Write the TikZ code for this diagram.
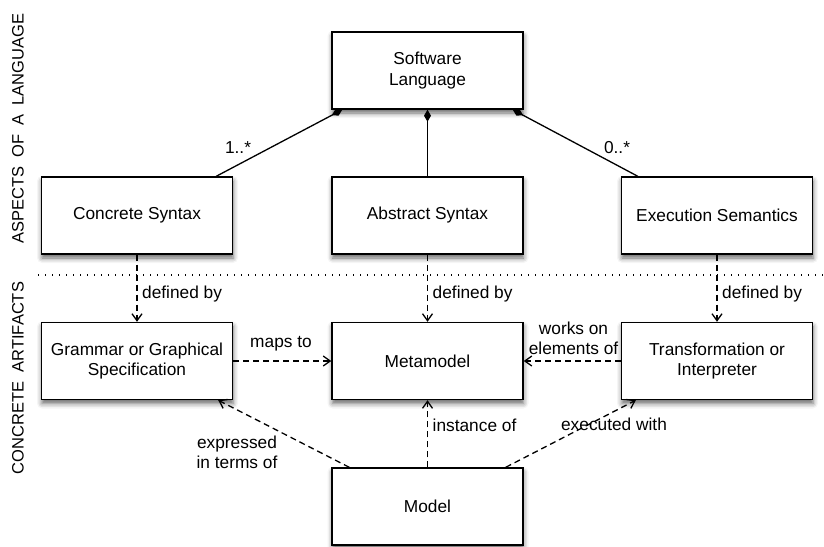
\documentclass[tikz,border=0pt]{standalone}
\usepackage{fontspec}
\setmainfont{Liberation Sans}
\usetikzlibrary{arrows.meta,calc,shadows.blur}
\begin{document}
\begin{tikzpicture}[x=1pt,y=-1pt,
  box/.style={draw=black,line width=1.4pt,fill=white,minimum width=191pt,minimum height=77pt,inner sep=0pt,align=center,
    font=\fontsize{17.3}{20.5}\selectfont,
    blur shadow={shadow xshift=0.5pt,shadow yshift=-4pt,shadow blur radius=5pt,shadow opacity=60}},
  lbl/.style={font=\fontsize{17.3}{20}\selectfont,inner sep=0pt,align=center},
  side/.style={font=\fontsize{16.5}{18}\selectfont,inner sep=0pt,rotate=90},
  comp/.style={line width=1.3pt,{Diamond[length=12pt,width=7pt]}-},
  dep/.style={line width=1.3pt,dash pattern=on 6pt off 4pt,-{Straight Barb[length=7pt,width=10pt]}},
  sep/.style={line width=1.2pt,dash pattern=on 1.2pt off 5.8pt}
]
\useasboundingbox (0,0) rectangle (824,546);

% separator
\coordinate (sepL) at (38,275);
\coordinate (sepR) at (824,275);
\draw[sep] (sepL) -- (sepR);

% side labels
\node[side] (aspects) at (18,128.5) {ASPECTS\hspace{9pt}OF\hspace{9pt}A\hspace{9pt}LANGUAGE};
\node[side] (artifacts) at (18,378) {CONCRETE\hspace{9pt}ARTIFACTS};

% boxes
\node[box] (SL) at (427.5,70.5) {Software\\Language};
\node[box] (CS) at (137,215.5) {Concrete Syntax};
\node[box] (AS) at (427.5,215.5) {Abstract Syntax};
\node[box] (ES) at (717,215.5) {Execution Semantics};
\node[box] (GR) at (137,361) {Grammar or Graphical\\Specification};
\node[box] (MM) at (427.5,361) {Metamodel};
\node[box] (TR) at (717,361) {Transformation or\\Interpreter};
\node[box] (MO) at (427.5,506.5) {Model};

% composition
\draw[comp] ($(SL.south west)+(11,0)$) -- ($(CS.north east)+(-17,0)$);
\draw[comp] (SL.south) -- (AS.north);
\draw[comp] ($(SL.south east)+(-11,0)$) -- ($(ES.north west)+(17,0)$);
\node[lbl] (m1) at (238,148) {1..*};
\node[lbl] (m2) at (617,148) {0..*};

% defined by
\draw[dep] (CS.south) -- (GR.north);
\draw[dep] (AS.south) -- (MM.north);
\draw[dep] (ES.south) -- (TR.north);
\node[lbl,anchor=west] (d1) at (142,294) {defined by};
\node[lbl,anchor=west] (d2) at (432.5,294) {defined by};
\node[lbl,anchor=west] (d3) at (722,294) {defined by};

% horizontal
\draw[dep] (GR.east) -- (MM.west);
\node[lbl] (maps) at (281,344) {maps to};
\draw[dep] (TR.west) -- (MM.east);
\node[lbl] (works) at (573.5,338) {works on\\elements of};

% from model
\draw[dep] ($(MO.north west)+(18,0)$) -- ($(GR.south east)+(-15,0)$);
\node[lbl] (expr) at (237,452) {expressed\\in terms of};
\draw[dep] (MO.north) -- (MM.south);
\node[lbl,anchor=west] (inst) at (432.5,425) {instance of};
\draw[dep] ($(MO.north east)+(-18,0)$) -- ($(TR.south west)+(15,0)$);
\node[lbl] (exec) at (614,424) {executed with};
\end{tikzpicture}
\end{document}
